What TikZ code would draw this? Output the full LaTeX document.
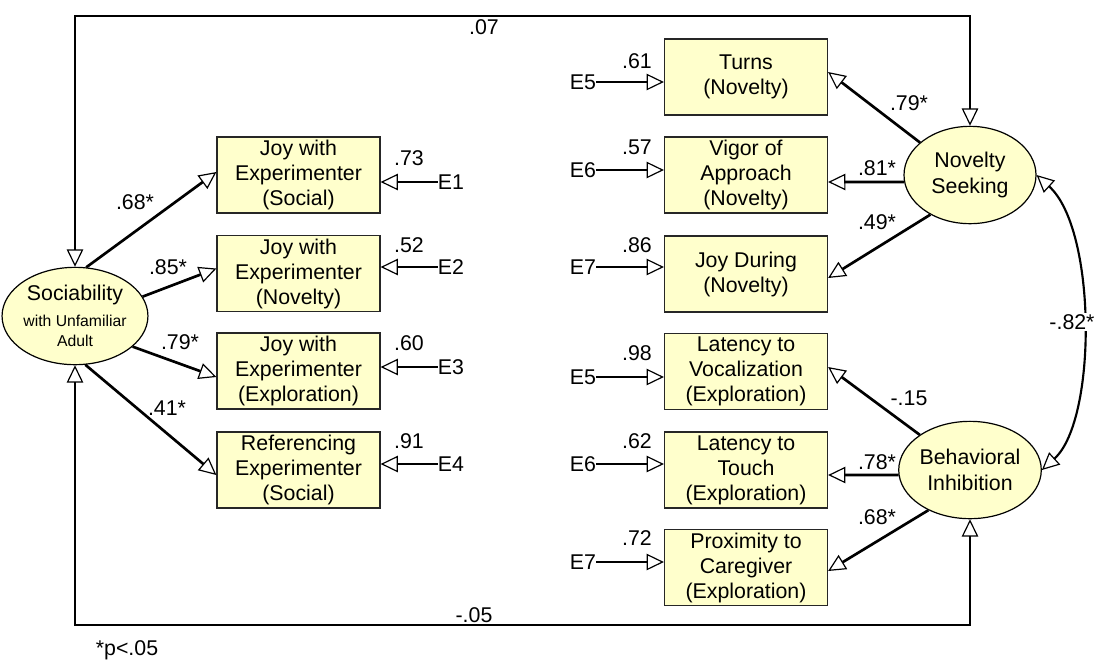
\documentclass[tikz,border=0pt]{standalone}
\usepackage{fontspec}
\setmainfont{Liberation Sans}
\usetikzlibrary{arrows.meta,shapes.geometric,calc}
\definecolor{boxfill}{HTML}{FFFFCC}
\begin{document}
\begin{tikzpicture}[x=0.75pt,y=-0.75pt,
  obs/.style={draw=black!85, line width=0.9pt, fill=boxfill, minimum width=122.25pt, minimum height=57pt, inner sep=0pt, align=center, font=\fontsize{16}{18.75}\selectfont},
  lat/.style={ellipse, draw=black, line width=0.9pt, fill=boxfill, minimum width=99pt, minimum height=73pt, inner sep=0pt, align=center, font=\fontsize{16}{19}\selectfont},
  tip/.style={-{Triangle[open,length=10pt,width=9.5pt,line width=0.9pt,scale=1.3]}},
  pth/.style={tip, line width=2pt},
  err/.style={tip, line width=1.5pt},
  cov/.style={{Triangle[open,length=10pt,width=9.5pt,line width=0.9pt,scale=1.3]}-{Triangle[open,length=10pt,width=9.5pt,line width=0.9pt,scale=1.3]}, line width=1.6pt},
  lbl/.style={inner sep=0pt, font=\fontsize{16}{18}\selectfont},
  etxt/.style={inner sep=0pt, font=\fontsize{16}{18}\selectfont}]
\useasboundingbox[fill=white] (0,0) rectangle (1094,662);

% latent variables
\node[lat, font=\fontsize{11.8}{15}\selectfont] (soc) at (75,316) {{\fontsize{16}{19}\selectfont Sociability}\\[5pt]with Unfamiliar\\Adult};
\node[lat] (ns) at (970,175) {Novelty\\Seeking};
\node[lat] (bi) at (970,470) {Behavioral\\Inhibition};

% left indicators
\node[obs] (b1) at (298.5,175) {Joy with\\Experimenter\\(Social)};
\node[obs] (b2) at (298.5,273.5) {Joy with\\Experimenter\\(Novelty)};
\node[obs] (b3) at (298.5,371) {Joy with\\Experimenter\\(Exploration)};
\node[obs] (b4) at (298.5,470) {Referencing\\Experimenter\\(Social)};

% right indicators
\node[obs] (r1) at (746,77) {Turns\\(Novelty)};
\node[obs] (r2) at (746,175) {Vigor of\\Approach\\(Novelty)};
\node[obs] (r3) at (746,274) {Joy During\\(Novelty)};
\node[obs] (r4) at (746,371.5) {Latency to\\Vocalization\\(Exploration)};
\node[obs] (r5) at (746,470) {Latency to\\Touch\\(Exploration)};
\node[obs] (r6) at (746,567.5) {Proximity to\\Caregiver\\(Exploration)};

% error terms
\node[etxt] (e1) at (451,182) {E1};
\node[etxt] (e2) at (451,267) {E2};
\node[etxt] (e3) at (451,367) {E3};
\node[etxt] (e4) at (451,464) {E4};
\node[etxt] (e5a) at (583,82) {E5};
\node[etxt] (e6a) at (583,170) {E6};
\node[etxt] (e7a) at (583,267) {E7};
\node[etxt] (e5b) at (583,377) {E5};
\node[etxt] (e6b) at (583,464) {E6};
\node[etxt] (e7b) at (583,562) {E7};

\draw[err] (e1.west) -- (b1.east |- e1);
\draw[err] (e2.west) -- (b2.east |- e2);
\draw[err] (e3.west) -- (b3.east |- e3);
\draw[err] (e4.west) -- (b4.east |- e4);
\draw[err] (e5a.east) -- (r1.west |- e5a);
\draw[err] (e6a.east) -- (r2.west |- e6a);
\draw[err] (e7a.east) -- (r3.west |- e7a);
\draw[err] (e5b.east) -- (r4.west |- e5b);
\draw[err] (e6b.east) -- (r5.west |- e6b);
\draw[err] (e7b.east) -- (r6.west |- e7b);

% error variances
\node[lbl] at (409,158) {.73};
\node[lbl] at (409,245) {.52};
\node[lbl] at (409,343) {.60};
\node[lbl] at (409,441) {.91};
\node[lbl] at (637,61) {.61};
\node[lbl] at (637,147) {.57};
\node[lbl] at (637,245) {.86};
\node[lbl] at (637,353) {.98};
\node[lbl] at (637,441) {.62};
\node[lbl] at (637,538) {.72};

% loadings
\draw[pth] (soc.77) -- ($(b1.west)+(0,-3)$);
\draw[pth] (soc.16) -- ($(b2.west)+(0,-5)$);
\draw[pth] (soc.-28) -- ($(b3.west)+(0,6)$);
\draw[pth] (soc.-78) -- ($(b4.west)+(0,5)$);
\draw[pth] (ns.147) -- ($(r1.east)+(0,-5)$);
\draw[pth] (ns.186) -- ($(r2.east)+(0,7)$);
\draw[pth] (ns.225) -- ($(r3.east)+(0,4)$);
\draw[pth] (bi.145) -- ($(r4.east)+(0,-4.5)$);
\draw[pth] (bi.184) -- ($(r5.east)+(0,5)$);
\draw[pth] (bi.224) -- ($(r6.east)+(0,3.5)$);

\node[lbl] at (135,202) {.68*};
\node[lbl] at (168,267) {.85*};
\node[lbl] at (180,342) {.79*};
\node[lbl] at (167,408) {.41*};
\node[lbl] at (909,103) {.79*};
\node[lbl] at (877,168) {.81*};
\node[lbl] at (877,222) {.49*};
\node[lbl] at (909,398) {-.15};
\node[lbl] at (877,462) {.78*};
\node[lbl] at (877,517) {.68*};

% covariances
\coordinate (tl) at (75,16);
\coordinate (tr) at (970,16);
\coordinate (bl) at (75,625);
\coordinate (br) at (970,625);
\draw[cov] (soc.north) -- (tl) -- (tr) -- (ns.north);
\draw[cov] (soc.south) -- (bl) -- (br) -- (bi.south);
\node[lbl] at (484,27) {.07};
\node[lbl] at (474,615) {-.05};

\draw[cov] (ns.east) .. controls (1097,230) and (1097,420) .. (bi.east);
\node[lbl, fill=white, inner sep=1pt] at (1072,322) {-.82*};

\node[lbl] at (127,650) {*p<.05};
\end{tikzpicture}
\end{document}
